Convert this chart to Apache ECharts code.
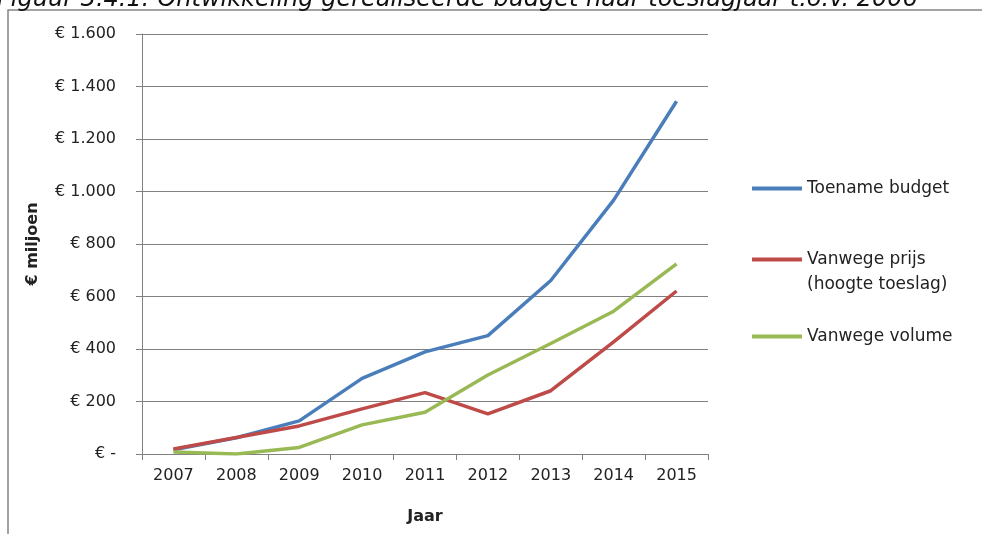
<!DOCTYPE html>
<html>
<head>
<meta charset="utf-8">
<script src="https://cdn.jsdelivr.net/npm/echarts@6/dist/echarts.min.js"></script>
<style>html,body{margin:0;padding:0;background:#fff;}#c{width:982px;height:534px;}</style>
</head>
<body>
<div id="c"></div>
<script>
var years = ['2007','2008','2009','2010','2011','2012','2013','2014','2015'];
var toenameBudget = [16, 62, 126, 288, 389, 451, 661, 967, 1344];
var vanwegePrijs = [19, 63, 107, 172, 234, 153, 241, 427, 621];
var vanwegeVolume = [8, 0, 25, 111, 159, 301, 421, 544, 724];
var seriesNames = ['Toename budget', 'Vanwege prijs (hoogte toeslag)', 'Vanwege volume'];
var colors = ['#4a7ebb', '#be4b48', '#98b954'];

function fmtY(v) {
  if (v === 0) return '€ -';
  return '€ ' + v.toLocaleString('de-DE');
}

var font = 'DejaVu Sans';
var chart = echarts.init(document.getElementById('c'));
function legendCfg(name, top, extra) {
  var ts = { fontFamily: font, fontSize: 17, color: '#222' };
  if (extra) Object.assign(ts, extra);
  return {
    data: [name], left: 752, top: top, orient: 'vertical', padding: 0,
    itemWidth: 50, itemHeight: 14, icon: 'path://M0,6 L50,6 L50,10 L0,10 Z',
    formatter: function (n) { return n === seriesNames[1] ? ' \nVanwege prijs\n(hoogte toeslag)' : n; },
    textStyle: ts, selectedMode: false
  };
}
chart.setOption({
  animation: false,
  color: colors,
  grid: { left: 142, right: 274, top: 34, bottom: 80, containLabel: false },
  graphic: [
    { type: 'rect', shape: { x: 8, y: 10, width: 1000, height: 560 }, style: { fill: 'none', stroke: '#858585', lineWidth: 1.5 }, silent: true },
    { type: 'text', x: -3, y: 12, style: { text: 'Figuur 3.4.1: Ontwikkeling gerealiseerde budget naar toeslagjaar t.o.v. 2006', font: 'italic 24px "DejaVu Sans"', fill: '#111', verticalAlign: 'bottom' }, silent: true }
  ],
  legend: [
    legendCfg(seriesNames[0], 180),
    legendCfg(seriesNames[1], 222, { lineHeight: 25 }),
    legendCfg(seriesNames[2], 328)
  ],
  xAxis: {
    type: 'category', data: years, boundaryGap: true,
    name: 'Jaar', nameLocation: 'middle', nameGap: 55,
    nameTextStyle: { fontFamily: font, fontSize: 16, fontWeight: 'bold', color: '#222' },
    axisLine: { lineStyle: { color: '#808080', width: 1 } },
    axisTick: { show: true, length: 6, alignWithLabel: false, lineStyle: { color: '#808080' } },
    axisLabel: { fontFamily: font, fontSize: 16, color: '#222', margin: 14 }
  },
  yAxis: {
    type: 'value', min: 0, max: 1600, interval: 200,
    name: '€ miljoen', nameLocation: 'middle', nameGap: 101, nameRotate: 90,
    nameTextStyle: { fontFamily: font, fontSize: 16, fontWeight: 'bold', color: '#222' },
    axisLine: { show: true, lineStyle: { color: '#808080', width: 1 } },
    axisTick: { show: true, length: 6, lineStyle: { color: '#808080' } },
    axisLabel: { fontFamily: font, fontSize: 16, color: '#222', margin: 26, formatter: fmtY },
    splitLine: { show: true, lineStyle: { color: '#808080', width: 1 } }
  },
  series: [
    { name: seriesNames[0], type: 'line', data: toenameBudget, showSymbol: false, symbol: 'none', lineStyle: { width: 3.5, color: colors[0] }, z: 3 },
    { name: seriesNames[1], type: 'line', data: vanwegePrijs, showSymbol: false, symbol: 'none', lineStyle: { width: 3.5, color: colors[1] }, z: 4 },
    { name: seriesNames[2], type: 'line', data: vanwegeVolume, showSymbol: false, symbol: 'none', lineStyle: { width: 3.5, color: colors[2] }, z: 5 }
  ]
});
</script>
</body>
</html>
